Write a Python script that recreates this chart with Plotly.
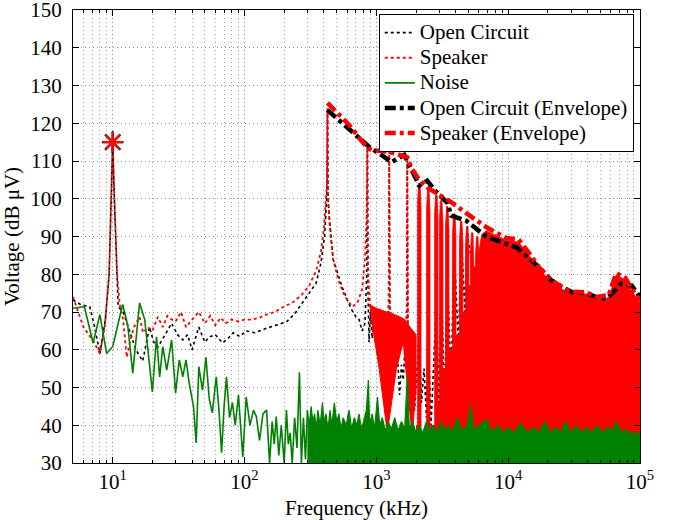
import plotly.graph_objects as go

# ---------------- data ----------------
# Open Circuit raw spectrum (kHz, dB uV)
open_circuit = [
    (5, 73.2), (5.7, 72), (6.7, 71.4), (7.3, 66), (8, 59), (8.8, 68), (9.4, 80), (9.8, 100),
    (10, 115), (10.3, 100), (10.7, 80), (11, 71.4), (12, 70), (13.4, 65), (15, 60), (16.9, 57),
    (19, 66), (20.5, 62), (22, 60.7), (25, 64), (28, 67), (31, 64), (34, 62.6), (37, 64),
    (40, 60), (45, 66), (50, 62), (54, 63.4), (60, 64), (68, 61.8), (75, 63), (82, 64.5),
    (92, 63.5), (103, 65), (120, 64.5), (147, 65.7), (175, 66.5), (208, 67.4), (240, 69.5),
    (275, 72.4), (310, 75), (350, 77.7), (380, 83), (405, 90), (418, 99), (422, 101),
    (426, 123.5), (430, 100), (440, 95), (470, 84), (550, 76.6), (640, 71), (700, 68.7),
    (740, 68), (780, 65), (820, 67), (845, 80), (855, 113), (865, 75), (880, 62), (900, 70),
    (930, 63), (960, 69), (990, 62), (1020, 68), (1060, 61), (1100, 67), (1150, 62),
    (1200, 66), (1240, 72), (1253, 111), (1266, 72), (1300, 60), (1350, 62), (1400, 55),
    (1450, 58), (1500, 48), (1550, 56), (1600, 52), (1650, 62), (1700, 70), (1717, 110),
    (1734, 65), (1780, 52), (1850, 58), (1950, 44), (2050, 56), (2100, 62), (2118, 103),
    (2136, 60), (2200, 46), (2300, 55), (2400, 42), (2460, 62), (2478, 103), (2496, 60),
    (2600, 40), (2700, 52), (2830, 70), (2851, 101), (2872, 70), (3000, 42), (3085, 74),
    (3107, 98), (3130, 74), (3300, 45), (3425, 78), (3451, 97), (3477, 78), (3700, 50),
    (3870, 84), (3900, 95.5), (3930, 84), (4200, 60), (4370, 88), (4404, 94), (4440, 88),
    (4700, 70), (4850, 90), (4890, 93), (4930, 90), (5200, 85),
]

# Speaker raw spectrum (kHz, dB uV)
speaker = [
    (5, 74), (5.5, 70), (6, 66), (6.6, 64), (7.2, 62), (8, 59), (8.7, 66), (9.4, 80),
    (9.8, 100), (10, 115), (10.3, 100), (10.8, 80), (11.3, 72), (12, 68), (12.8, 58),
    (13.5, 62), (14.5, 66), (16, 68.7), (17, 64.5), (18.5, 66), (20, 65), (22, 68.7),
    (24, 66), (26, 69), (28, 68), (30, 67.5), (33, 70), (36, 66), (40, 68), (45, 70),
    (50, 67), (55, 69), (60, 66.5), (66, 68.5), (72, 67), (80, 68), (90, 67.5), (100, 68),
    (115, 68), (130, 68.5), (146, 69.3), (170, 70), (200, 71.5), (230, 72.4), (270, 74.5),
    (310, 77), (350, 81), (380, 86), (400, 92), (415, 100), (422, 104), (426, 124),
    (430, 100), (445, 92), (470, 84), (520, 78), (580, 74), (658, 71.4), (720, 72.5),
    (780, 76), (820, 84), (845, 96), (855, 113.5), (865, 80), (900, 71), (1050, 69),
    (1240, 70), (1253, 112.5), (1266, 70), (1450, 68), (1700, 66), (1717, 111), (1734, 66),
    (1900, 60),
]

# Dense speaker band between the first notches (upper edge L->R, lower edge R->L)
speaker_notch_top = [
    (880, 72), (1000, 71), (1200, 70), (1450, 69), (1650, 68), (1800, 66), (2000, 64),
]
speaker_notch_bottom = [
    (2000, 50), (1870, 37), (1600, 62), (1420, 55), (1211, 38), (1050, 55), (916, 68),
]

# Harmonic comb of the speaker spectrum: centre (kHz), peak (dB), floor of the gap after it (dB)
comb_center = [2118, 2478, 2851, 3107, 3451, 3900, 4404, 4890, 5335, 5823]
comb_peak = [104, 102.5, 101, 99.5, 98, 96, 94, 92.5, 91, 90]
comb_floor_after = [38, 40, 46, 55, 60, 64, 70, 77, 82, 86]
comb_start = (2000, 40)
# Dense part above the comb (follows the envelope)
speaker_dense_top = [
    (6300, 90.5), (6808, 91.5), (9660, 89), (12000, 88.5), (14420, 85), (17000, 81.5),
    (21100, 78), (25600, 76), (30500, 74.8), (39000, 74.8), (46000, 73.5), (55000, 73.5),
    (58000, 74), (66000, 79.8), (77600, 78.5), (86600, 75.5), (100000, 72.5),
]
speaker_dense_bottom = [(100000, 34), (30000, 34), (10000, 34), (4000, 34.5), (2000, 36)]

# Noise: low-frequency line and dense high-frequency part
noise_low = [
    (5, 71), (6.1, 71.4), (7.1, 61.8), (8, 69.3), (9, 59), (10, 60.8), (11.9, 72), (13, 66.6),
    (14.2, 53.8), (16, 72.4), (17.5, 68), (20, 48.8), (21.5, 63.4), (22.7, 52.8), (24, 60.8),
    (25.7, 54.6), (28, 62.6), (30, 48.5), (32, 57.3), (34, 52.8), (36, 57.3), (38, 51.3),
    (41, 45), (43, 35.3), (45, 55.5), (48, 49.3), (51, 58), (54, 47), (57, 43.3), (61, 52.8),
    (64, 44), (67, 32.7), (70, 45), (73, 52.8), (77, 42), (81, 46), (85, 40), (90, 48),
    (97, 31.6), (103, 47.5), (110, 40), (117, 44), (123, 42.3), (130, 36), (138, 43),
    (147, 44), (155, 30), (162, 41), (168, 35), (174, 42.3), (182, 32), (190, 40), (200, 30),
    (208, 44), (215, 35), (222, 38), (230, 30), (240, 42), (250, 34), (261, 54), (270, 30),
    (280, 42), (290, 31), (300, 44),
]
noise_high = [
    (300, 44), (310, 40), (320, 45), (330, 41), (340, 43), (350, 39), (360, 44), (375, 40),
    (390, 46), (400, 41), (415, 43), (430, 39), (445, 44), (460, 40), (480, 46), (500, 41),
    (520, 43), (540, 39), (560, 42), (590, 40), (620, 44), (650, 39), (680, 42), (710, 40),
    (740, 43), (770, 39), (800, 41), (840, 44), (870, 52), (890, 40), (930, 43), (970, 39),
    (1020, 47.5), (1060, 40), (1110, 42), (1170, 38.5), (1230, 41), (1300, 39), (1380, 42),
    (1460, 38.5), (1550, 41), (1640, 39), (1717, 53), (1780, 39), (1880, 41), (2000, 38),
    (2120, 40), (2250, 38), (2400, 41), (2550, 38.5), (2700, 40), (2900, 38), (3100, 41),
    (3300, 38.5), (3550, 40), (3800, 38), (4100, 42), (4500, 38.5), (4900, 40), (5200, 45.5),
    (5500, 38.5), (6000, 40), (6900, 41.5), (7500, 38), (8300, 40), (9200, 38), (10000, 39.5),
    (11000, 38), (12500, 40.5), (14000, 38), (15500, 39.5), (17000, 38), (19000, 41),
    (21000, 38), (23000, 39.5), (25000, 38), (27000, 41), (30000, 38), (33000, 40),
    (36000, 38), (39000, 39.5), (43000, 38), (47000, 40), (52000, 38), (57000, 39.5),
    (62000, 38.5), (66000, 41), (72000, 38), (78000, 39), (85000, 37.5), (92000, 38.5),
    (100000, 37.5),
]

# Envelopes
open_circuit_env = [
    (426, 123.5), (624, 118.5), (885, 113.7), (1092, 111.6), (1300, 109.7), (1630, 111.6),
    (2118, 103.5), (2432, 104.8), (2900, 101.5), (3450, 99), (3700, 95.5), (4800, 94.2),
    (6800, 90), (11700, 87), (15740, 83), (17000, 82), (21100, 78.5), (25600, 76.6),
    (30500, 75.3), (39000, 75), (46000, 74), (55000, 73.5), (62000, 75), (72000, 77.5),
    (86600, 77), (100000, 74),
]
speaker_env = [
    (426, 125.4), (624, 119.5), (855, 113.4), (930, 112.9), (1253, 112.4), (1400, 112),
    (1717, 111), (1850, 108), (2118, 105), (2478, 102.8), (2851, 101.5), (3767, 98.9),
    (4805, 96.2), (6808, 92.5), (9660, 89.6), (12000, 89.2), (14420, 85.6), (17000, 82),
    (21100, 78.5), (25600, 76.6), (30500, 75.3), (39000, 75.3), (46000, 74), (58000, 74.5),
    (66000, 80.3), (77600, 79), (86600, 76), (100000, 73),
]

# Peak markers
peak_f = [10]
peak_db = [115]

# Legend labels
legend_names = ["Open Circuit", "Speaker", "Noise", "Open Circuit (Envelope)", "Speaker (Envelope)"]

# Axis ticks
x_tickvals = [10, 100, 1000, 10000, 100000]
x_ticktext = ["10<sup>1</sup>", "10<sup>2</sup>", "10<sup>3</sup>", "10<sup>4</sup>", "10<sup>5</sup>"]
y_tickvals = [30, 40, 50, 60, 70, 80, 90, 100, 110, 120, 130, 140, 150]


def unzip(pairs):
    return [p[0] for p in pairs], [p[1] for p in pairs]


def lg(name):
    return "<span style='font-size:21px'>" + name + "</span>"


RED = "#FF0000"
GREEN = "#008000"
FONT = "Liberation Serif, Times New Roman, Times, serif"
COL_HALF = 1.03   # half width of a comb column (frequency ratio), a drawing style

# build the comb polygon from the comb arrays
comb_x = [comb_start[0]]
comb_y = [comb_start[1]]
prev = comb_start[1]
for c, p, g in zip(comb_center, comb_peak, comb_floor_after):
    comb_x += [c / COL_HALF, c / COL_HALF, c / (COL_HALF ** 0.4), c * (COL_HALF ** 0.4),
               c * COL_HALF, c * COL_HALF]
    comb_y += [prev, p - 5, p, p, p - 6, g]
    prev = g
dt_f, dt_v = unzip(speaker_dense_top)
db_f, db_v = unzip(speaker_dense_bottom)
comb_x += dt_f + db_f
comb_y += dt_v + db_v

fig = go.Figure()

xf, yv = unzip(open_circuit)
fig.add_trace(go.Scatter(x=xf, y=yv, mode="lines", name=lg(legend_names[0]),
                         line=dict(color="black", width=1.6, dash="dot")))

nt_f, nt_v = unzip(speaker_notch_top)
nb_f, nb_v = unzip(speaker_notch_bottom)
fig.add_trace(go.Scatter(x=nt_f + nb_f, y=nt_v + nb_v, mode="lines", fill="toself",
                         fillcolor=RED, line=dict(color=RED, width=1),
                         showlegend=False, hoverinfo="skip"))
fig.add_trace(go.Scatter(x=comb_x, y=comb_y, mode="lines", fill="toself",
                         fillcolor=RED, line=dict(color=RED, width=0.8),
                         showlegend=False, hoverinfo="skip"))

xf, yv = unzip(speaker)
fig.add_trace(go.Scatter(x=xf, y=yv, mode="lines", name=lg(legend_names[1]),
                         line=dict(color=RED, width=1.8, dash="dot")))

xf, yv = unzip(noise_low)
fig.add_trace(go.Scatter(x=xf, y=yv, mode="lines", name=lg(legend_names[2]),
                         line=dict(color=GREEN, width=1.6)))
xf, yv = unzip(noise_high)
fig.add_trace(go.Scatter(x=xf, y=yv, mode="lines", fill="tozeroy", fillcolor=GREEN,
                         line=dict(color=GREEN, width=1.2), showlegend=False,
                         hoverinfo="skip"))

xf, yv = unzip(open_circuit_env)
fig.add_trace(go.Scatter(x=xf, y=yv, mode="lines", name=lg(legend_names[3]),
                         line=dict(color="black", width=4.5, dash="11px,4px,4px,4px")))
xf, yv = unzip(speaker_env)
fig.add_trace(go.Scatter(x=xf, y=yv, mode="lines", name=lg(legend_names[4]),
                         line=dict(color=RED, width=4.5, dash="11px,4px,4px,4px")))

fig.add_trace(go.Scatter(x=peak_f, y=peak_db, mode="markers", showlegend=False,
                         marker=dict(symbol="asterisk-open", size=18, color="black",
                                     line=dict(color="black", width=2.2))))
fig.add_trace(go.Scatter(x=peak_f, y=peak_db, mode="markers", showlegend=False,
                         marker=dict(symbol="asterisk-open", size=17, color=RED,
                                     line=dict(color=RED, width=2.2))))

grid = dict(showgrid=True, gridcolor="#8c8c8c", griddash="1px,3px", gridwidth=1)

fig.update_layout(
    width=673, height=520,
    margin=dict(l=73, r=33, t=10, b=57),
    paper_bgcolor="white", plot_bgcolor="white",
    font=dict(family=FONT, size=20, color="black"),
    showlegend=True,
    legend=dict(x=0.989, xanchor="right", y=0.991, yanchor="top",
                bgcolor="white", bordercolor="black", borderwidth=1,
                font=dict(family=FONT, size=17), tracegroupgap=0, itemwidth=30),
    xaxis=dict(type="log", range=[0.69897, 5.00001], tickvals=x_tickvals, ticktext=x_ticktext,
               ticks="inside", ticklen=6, tickcolor="black", showline=True, linecolor="black",
               linewidth=1, mirror="allticks", zeroline=False, automargin=False,
               ticklabeloverflow="allow",
               title=dict(text="Frequency (kHz)", font=dict(family=FONT, size=21)),
               tickfont=dict(family=FONT, size=21),
               minor=dict(dtick="D1", ticks="inside", ticklen=3, tickcolor="black",
                          showgrid=True, gridcolor="#a8a8a8", griddash="1px,3px", gridwidth=1),
               **grid),
    yaxis=dict(range=[30, 150.001], tickvals=y_tickvals, ticks="inside", ticklen=6,
               tickcolor="black", showline=True, linecolor="black", linewidth=1,
               mirror="allticks", zeroline=False, automargin=False,
               ticklabeloverflow="allow", ticklabelstandoff=6,
               title=dict(text="Voltage (dB \u03bcV)", font=dict(family=FONT, size=21)),
               tickfont=dict(family=FONT, size=21), **grid),
)

fig.write_html("out.html", config={"displayModeBar": False},
               post_script="document.body.style.margin='0';document.body.style.padding='0';")
